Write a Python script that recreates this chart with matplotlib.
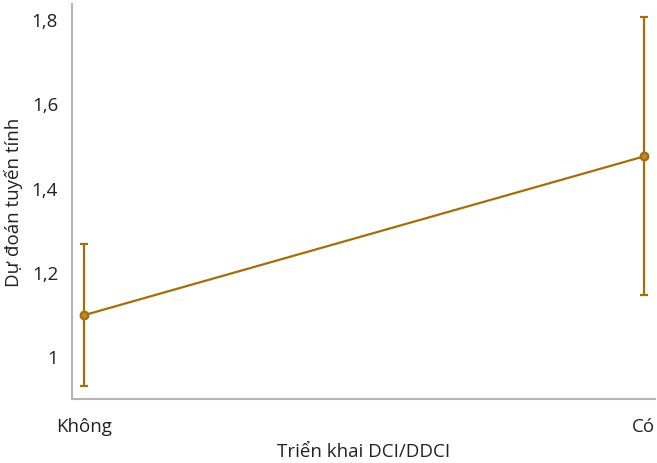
import matplotlib
matplotlib.use("Agg")
import matplotlib.pyplot as plt

categories = ["Không", "Có"]
predicted = [1.097, 1.474]
ci_low = [0.929, 1.145]
ci_high = [1.266, 1.805]
y_ticks = [1.0, 1.2, 1.4, 1.6, 1.8]
y_tick_labels = ["1", "1,2", "1,4", "1,6", "1,8"]

color = "#A46F0A"
plt.rcParams["font.family"] = ["Open Sans", "DejaVu Sans"]

fig = plt.figure(figsize=(6.57, 4.64), dpi=100)
ax = fig.add_axes([0.1096, 0.138, 0.888, 0.851])

x = list(range(len(categories)))
yerr = [[p - l for p, l in zip(predicted, ci_low)],
        [h - p for p, h in zip(predicted, ci_high)]]
ax.errorbar(x, predicted, yerr=yerr, color=color, lw=1.6, capsize=3, capthick=1.6,
            marker="o", markersize=5.5, markerfacecolor="#B88A3A", markeredgecolor=color,
            markeredgewidth=1.6)

ax.set_xlim(-0.0214, 1.021)
ax.set_ylim(0.898, 1.836)
ax.set_xticks(x)
ax.set_xticklabels(categories)
ax.set_yticks(y_ticks)
ax.set_yticklabels(y_tick_labels)
ax.tick_params(length=0, labelsize=13.5, colors="#222222", pad=10)
ax.tick_params(axis="x", pad=13)

for side in ("top", "right"):
    ax.spines[side].set_visible(False)
for side in ("left", "bottom"):
    ax.spines[side].set_color("#b5b5b5")
    ax.spines[side].set_linewidth(1.5)

ax.set_xlabel("Triển khai DCI/DDCI", fontsize=13.5, color="#222222", labelpad=5)
ax.set_ylabel("Dự đoán tuyến tính", fontsize=13.5, color="#222222", labelpad=6)

fig.savefig("out.png", dpi=100)
